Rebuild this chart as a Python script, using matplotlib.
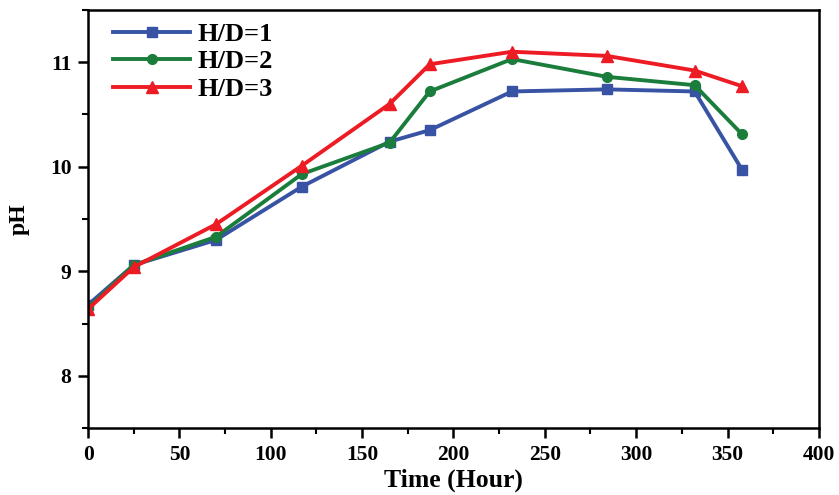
import matplotlib
matplotlib.use("Agg")
import matplotlib.pyplot as plt
from matplotlib.ticker import MultipleLocator

plt.rcParams['font.family'] = ['Liberation Serif', 'DejaVu Serif']
plt.rcParams['font.weight'] = 'bold'

time = [0, 25, 70, 117, 165, 187, 232, 284, 332, 358]
hd1 = [8.68, 9.06, 9.30, 9.81, 10.24, 10.35, 10.72, 10.74, 10.72, 9.97]
hd2 = [8.65, 9.06, 9.33, 9.93, 10.23, 10.72, 11.03, 10.86, 10.78, 10.31]
hd3 = [8.64, 9.04, 9.45, 10.01, 10.60, 10.98, 11.10, 11.06, 10.92, 10.77]
labels = ['H/D=1', 'H/D=2', 'H/D=3']

fig = plt.figure(figsize=(8.39, 4.95), dpi=100)
ax = fig.add_axes([0.105, 0.135, 0.871, 0.845])

ax.plot(time, hd1, color='#3953a4', lw=2.8, marker='s', ms=7, label=labels[0])
ax.plot(time, hd2, color='#1b7d3b', lw=2.8, marker='o', ms=7, label=labels[1])
ax.plot(time, hd3, color='#ed1c24', lw=2.8, marker='^', ms=8, label=labels[2])

ax.set_xlim(0, 400)
ax.set_ylim(7.5, 11.5)
ax.xaxis.set_major_locator(MultipleLocator(50))
ax.xaxis.set_minor_locator(MultipleLocator(25))
ax.yaxis.set_major_locator(MultipleLocator(1))
ax.yaxis.set_minor_locator(MultipleLocator(0.5))
ax.tick_params(which='major', direction='out', length=7, width=1.8, labelsize=15.5, pad=5)
ax.tick_params(which='minor', direction='out', length=4, width=1.5)
for lab in ax.get_xticklabels() + ax.get_yticklabels():
    lab.set_fontweight('bold')
for s in ax.spines.values():
    s.set_linewidth(1.8)

ax.set_xlabel('Time (Hour)', fontsize=18.5, fontweight='bold')
ax.xaxis.label.set_va('center')
ax.xaxis.set_label_coords(0.5, -0.125)
ax.set_ylabel('pH', fontsize=17, fontweight='bold')
ax.yaxis.set_label_coords(-0.08, 0.5)

ax.legend(loc='upper left', frameon=False, prop={'weight': 'bold', 'size': 19},
          handlelength=2.9, handletextpad=0.3, labelspacing=0.15,
          borderaxespad=0.0, bbox_to_anchor=(0.02, 0.995))

fig.savefig('out.png', dpi=100)
